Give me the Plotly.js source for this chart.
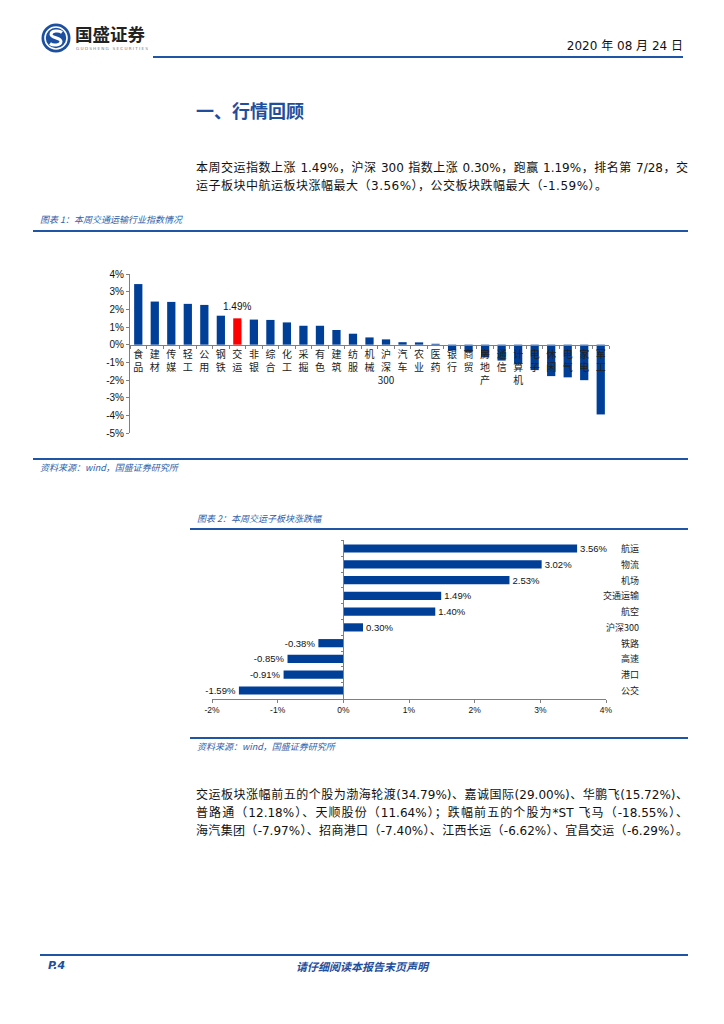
<!DOCTYPE html>
<html>
<head>
<meta charset="utf-8">
<script src="https://cdn.plot.ly/plotly-3.0.1.min.js"></script>
<style>
  html, body { margin:0; padding:0; background:#fff; }
  #page { position:relative; width:724px; height:1024px; overflow:hidden; background:#fff;
          font-family:"DejaVu Sans","Noto Sans CJK SC",sans-serif; color:#111; }
  .abs { position:absolute; }
  .hline { position:absolute; background:#1f55a5; }
  .cap { position:absolute; font-family:"Noto Sans CJK SC",sans-serif; font-style:italic; font-size:9px; color:#2f5ea8; white-space:nowrap; }
  .para { position:absolute; left:196px; width:492px; font-size:12px; line-height:18px; color:#111; }
  .para div { text-align:justify; text-align-last:justify; height:18px; white-space:nowrap; }
  .para div.last { text-align-last:left; letter-spacing:0.5px; }
</style>
</head>
<body>
<div id="page">
  <!-- header -->
  <svg class="abs" style="left:40px;top:22px" width="32" height="32" viewBox="0 0 32 32">
    <circle cx="16" cy="16" r="14.5" fill="#1c4f9f"/>
    <circle cx="16" cy="16" r="11" fill="none" stroke="#fff" stroke-width="1.6"/>
    <path d="M22 10.5 C19 8, 11 8.5, 11 12.5 C11 16, 21 15.5, 21 19.5 C21 23.5, 13 24, 10 21.5" fill="none" stroke="#fff" stroke-width="3"/>
  </svg>
  <div class="abs" style="left:75px;top:24px;font-family:'Noto Sans CJK SC';font-weight:700;font-size:17.5px;color:#222;line-height:20px;">国盛证券</div>
  <div class="abs" style="left:76px;top:46px;font-family:'DejaVu Sans';font-size:4.2px;color:#777;letter-spacing:1.2px;white-space:nowrap;">GUOSHENG SECURITIES</div>
  <div class="abs" style="right:41px;top:36px;font-size:12px;color:#111;white-space:nowrap;font-family:'DejaVu Sans','Noto Sans CJK SC';">2020 年 08 月 24 日</div>
  <div class="hline" style="left:153px;top:56px;width:530px;height:1.5px;"></div>

  <div class="abs" style="left:196px;top:99px;font-family:'Noto Sans CJK SC';font-weight:700;font-size:18px;color:#1f4e9c;line-height:22px;white-space:nowrap;">一、行情回顾</div>

  <div class="para" style="top:159px;">
    <div>本周交运指数上涨 1.49%，沪深 300 指数上涨 0.30%，跑赢 1.19%，排名第 7/28，交</div>
    <div class="last">运子板块中航运板块涨幅最大（3.56%），公交板块跌幅最大（-1.59%）。</div>
  </div>

  <div class="cap" style="left:40px;top:213px;">图表 1：本周交通运输行业指数情况</div>
  <div class="hline" style="left:33px;top:230px;width:655px;height:1.5px;"></div>
  <div id="chart1" class="abs" style="left:0;top:231px;width:724px;height:224px;"></div>
  <div class="hline" style="left:33px;top:458px;width:655px;height:1.5px;"></div>
  <div class="cap" style="left:40px;top:461px;">资料来源：wind，国盛证券研究所</div>

  <div class="cap" style="left:197px;top:512px;">图表 2：本周交运子板块涨跌幅</div>
  <div class="hline" style="left:190px;top:528px;width:498px;height:1.5px;"></div>
  <div id="chart2" class="abs" style="left:0;top:530px;width:724px;height:205px;"></div>
  <div class="hline" style="left:190px;top:737px;width:498px;height:1.5px;"></div>
  <div class="cap" style="left:197px;top:740px;">资料来源：wind，国盛证券研究所</div>

  <div class="para" style="top:786px;">
    <div>交运板块涨幅前五的个股为渤海轮渡(34.79%)、嘉诚国际(29.00%)、华鹏飞(15.72%)、</div>
    <div>普路通（12.18%）、天顺股份（11.64%）；跌幅前五的个股为*ST 飞马（-18.55%）、</div>
    <div>海汽集团（-7.97%）、招商港口（-7.40%）、江西长运（-6.62%）、宜昌交运（-6.29%）。</div>
  </div>

  <div class="hline" style="left:40px;top:954px;width:648px;height:2px;"></div>
  <div class="abs" style="left:48px;top:959px;font-family:'DejaVu Sans';font-weight:700;font-style:italic;font-size:11px;color:#1f4e9c;">P.4</div>
  <div class="abs" style="left:0;width:724px;top:958px;text-align:center;font-family:'Noto Sans CJK SC';font-weight:700;font-style:italic;font-size:11px;color:#1f4e9c;">请仔细阅读本报告末页声明</div>
</div>

<script>
// ---------- Chart 1 data ----------
var industries = ['食品','建材','传媒','轻工','公用','钢铁','交运','非银','综合','化工','采掘','有色','建筑','纺服','机械','沪深300','汽车','农业','医药','银行','商贸','房地产','通信','计算机','电子','休闲','电气','家电','军工'];
var industryChange = [3.43,2.44,2.42,2.31,2.25,1.64,1.49,1.42,1.40,1.26,1.07,1.07,0.83,0.62,0.41,0.30,0.14,0.13,0.05,-0.33,-0.43,-0.72,-0.90,-1.07,-1.44,-1.78,-1.85,-2.01,-3.95];
var highlightName = '交运';
var yTickVals1 = [-5,-4,-3,-2,-1,0,1,2,3,4];

// ---------- Chart 2 data ----------
var subSectors = ['航运','物流','机场','交通运输','航空','沪深300','铁路','高速','港口','公交'];
var subChange = [3.56,3.02,2.53,1.49,1.40,0.30,-0.38,-0.85,-0.91,-1.59];
var xTickVals2 = [-2,-1,0,1,2,3,4];

var BLUE = '#003f98';

function verticalLabel(s){
  var parts = s.match(/[0-9]+|./g);
  return parts.join('<br>');
}

var tickText1 = industries.map(verticalLabel);
var colors1 = industries.map(function(n){ return n === highlightName ? '#ff0000' : BLUE; });
var hiIdx = industries.indexOf(highlightName);

var trace1 = {
  type:'bar', x: industries, y: industryChange,
  marker:{color: colors1, line:{width:0}},
  hoverinfo:'skip'
};
var layout1 = {
  width:724, height:224,
  margin:{l:130, r:115, t:43, b:22},
  paper_bgcolor:'rgba(0,0,0,0)', plot_bgcolor:'rgba(0,0,0,0)',
  bargap:0.5, showlegend:false,
  xaxis:{
    type:'category', anchor:'free', position:(0-(-5))/9,
    range:[-0.5, industries.length-0.5],
    showline:true, linecolor:'#7f7f7f', linewidth:1,
    ticks:'outside', ticklen:3, tickcolor:'#7f7f7f', tickson:'boundaries',
    tickmode:'array', tickvals: industries, ticktext: tickText1, tickangle:0,
    tickfont:{family:'Noto Sans CJK SC, Liberation Sans', size:10, color:'#222'},
    showgrid:false, zeroline:false, fixedrange:true
  },
  yaxis:{
    range:[-5,4], tickmode:'array', tickvals:yTickVals1,
    ticktext: yTickVals1.map(function(v){return v+'%';}),
    showline:true, linecolor:'#7f7f7f', linewidth:1,
    ticks:'outside', ticklen:3, tickcolor:'#7f7f7f',
    tickfont:{family:'Liberation Sans, Arial', size:10, color:'#111'},
    showgrid:false, zeroline:false, fixedrange:true
  },
  annotations:[{
    x: industries[hiIdx], y: industryChange[hiIdx], xref:'x', yref:'y',
    text: industryChange[hiIdx].toFixed(2)+'%', showarrow:false, yanchor:'bottom', yshift:4,
    font:{family:'Liberation Sans, Arial', size:10, color:'#111'}
  }]
};
Plotly.newPlot('chart1',[trace1],layout1,{staticPlot:true, displayModeBar:false});

// ---------- Chart 2 ----------
var trace2 = {
  type:'bar', orientation:'h', y: subSectors, x: subChange,
  marker:{color: BLUE, line:{width:0}},
  text: subChange.map(function(v){return v.toFixed(2)+'%';}),
  textposition:'outside', cliponaxis:false, constraintext:'none',
  textfont:{family:'Liberation Sans, Arial', size:9.5, color:'#111'},
  hoverinfo:'skip'
};
var labelAnn = subSectors.map(function(n){
  return {x:1.0888, xref:'paper', y:n, yref:'y', text:n, showarrow:false, xanchor:'right',
          font:{family:'Noto Sans CJK SC', size:9, color:'#222'}};
});
var layout2 = {
  width:724, height:205,
  margin:{l:212, r:118, t:10, b:36},
  paper_bgcolor:'rgba(0,0,0,0)', plot_bgcolor:'rgba(0,0,0,0)',
  bargap:0.48, showlegend:false,
  xaxis:{
    range:[-2,4], tickmode:'array', tickvals:xTickVals2,
    ticktext: xTickVals2.map(function(v){return v+'%';}),
    showline:true, linecolor:'#7f7f7f', linewidth:1,
    ticks:'outside', ticklen:3, tickcolor:'#7f7f7f',
    tickfont:{family:'Liberation Sans, Arial', size:8.5, color:'#111'},
    showgrid:false, zeroline:false, fixedrange:true
  },
  yaxis:{
    type:'category', autorange:'reversed', anchor:'free', position:(0-(-2))/6,
    showline:true, linecolor:'#7f7f7f', linewidth:1,
    ticks:'outside', ticklen:2, tickcolor:'#7f7f7f', tickson:'boundaries',
    showticklabels:false, showgrid:false, zeroline:false, fixedrange:true
  },
  annotations: labelAnn
};
Plotly.newPlot('chart2',[trace2],layout2,{staticPlot:true, displayModeBar:false});
</script>
</body>
</html>
